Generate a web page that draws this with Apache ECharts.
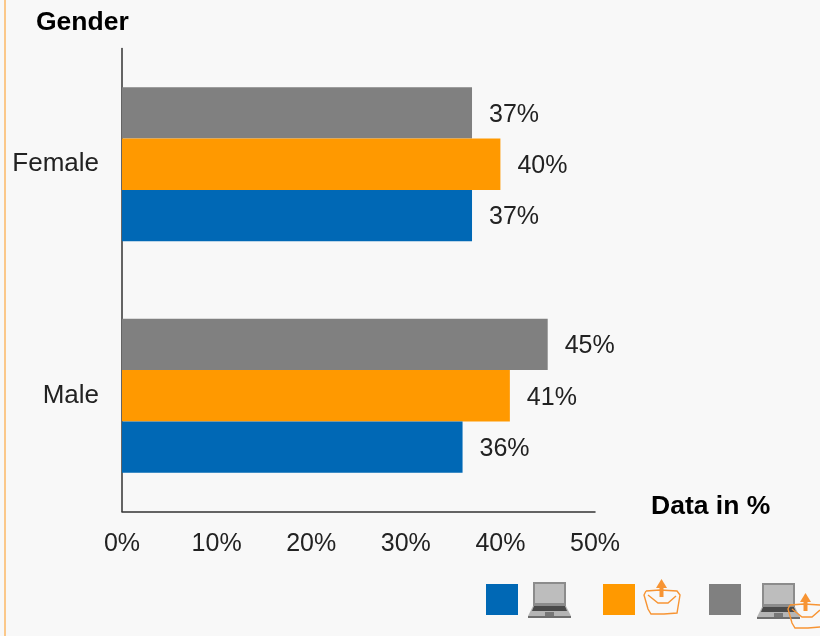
<!DOCTYPE html>
<html><head><meta charset="utf-8">
<style>html,body{margin:0;padding:0;background:#f8f8f8}#c{width:820px;height:636px}</style>
<script src="https://cdn.jsdelivr.net/npm/echarts@6/dist/echarts.min.js"></script></head>
<body><div id="c"></div>
<script>
const categories = ['Male', 'Female'];
const laptopValues = [36, 37];
const emailValues = [41, 40];
const bothValues = [45, 37];
const xTicks = [0, 10, 20, 30, 40, 50];
const colors = { laptop: '#0068b5', email: '#ff9900', both: '#808080' };
const F = 'Liberation Sans, Arial, sans-serif';

function laptop(x, y) {
  return [
    { type: 'rect', shape: { x: x + 5, y: y, width: 33, height: 25 }, style: { fill: '#8c8c8c' } },
    { type: 'rect', shape: { x: x + 7, y: y + 2, width: 29, height: 19 }, style: { fill: '#bdbdbd' } },
    { type: 'polygon', shape: { points: [[x + 5, y + 24], [x + 38, y + 24], [x + 43, y + 34], [x, y + 34]] }, style: { fill: '#b5b5b5' } },
    { type: 'polygon', shape: { points: [[x + 6, y + 24], [x + 37, y + 24], [x + 39, y + 29], [x + 4, y + 29]] }, style: { fill: '#4a4a4a' } },
    { type: 'rect', shape: { x: x + 17, y: y + 30, width: 9, height: 5 }, style: { fill: '#777' } },
    { type: 'rect', shape: { x: x, y: y + 34, width: 43, height: 2 }, style: { fill: '#6e6e6e' } }
  ];
}
function envelope(x, y) {
  const o = '#f79433';
  const line = { stroke: o, lineWidth: 1.4, fill: 'none' };
  return [
    { type: 'polyline', shape: { points: [[x + 2, y + 12], [x + 16, y + 11], [x + 33, y + 12], [x + 36, y + 16], [x + 33, y + 34], [x + 20, y + 35], [x + 7, y + 35], [x + 4, y + 30], [x, y + 16], [x + 2, y + 12]] }, style: line },
    { type: 'polyline', shape: { points: [[x + 4, y + 16], [x + 14, y + 24], [x + 24, y + 24], [x + 32, y + 17]] }, style: line },
    { type: 'rect', shape: { x: x + 15.5, y: y + 6, width: 4, height: 12 }, style: { fill: o } },
    { type: 'polygon', shape: { points: [[x + 17.5, y], [x + 23, y + 9], [x + 12, y + 9]] }, style: { fill: o } }
  ];
}

const graphics = [
  { type: 'rect', shape: { x: 4, y: 0, width: 2, height: 636 }, style: { fill: '#fbc88a' } },
  { type: 'rect', shape: { x: 486, y: 584, width: 32, height: 31 }, style: { fill: colors.laptop } },
  { type: 'rect', shape: { x: 603, y: 584, width: 32, height: 31 }, style: { fill: colors.email } },
  { type: 'rect', shape: { x: 709, y: 584, width: 32, height: 31 }, style: { fill: colors.both } },
  ...laptop(528, 582),
  ...envelope(644, 579),
  ...laptop(757, 583),
  ...envelope(788, 593)
].map(g => ({ ...g, silent: true }));

function series(name, data, color) {
  return {
    name, type: 'bar', data, barWidth: 51.3, barGap: 0,
    itemStyle: { color },
    label: { show: true, position: 'right', distance: 17, offset: [0, 2], formatter: '{c}%', color: '#222', fontSize: 25, fontFamily: F }
  };
}

const chart = echarts.init(document.getElementById('c'), null, { renderer: 'canvas' });
chart.setOption({
  animation: false,
  backgroundColor: '#f8f8f8',
  grid: { left: 122, right: 225, top: 48.5, bottom: 124.5, containLabel: false },
  xAxis: {
    type: 'value', min: 0, max: 50, interval: 10,
    splitLine: { show: false },
    axisLine: { show: true, lineStyle: { color: '#333', width: 1.5 } },
    axisTick: { show: false },
    axisLabel: { color: '#222', fontSize: 25, fontFamily: F, margin: 20,
      formatter: v => xTicks.includes(v) ? v + '%' : '' }
  },
  yAxis: {
    type: 'category', data: categories,
    axisLine: { show: true, lineStyle: { color: '#333', width: 1.5 } },
    axisTick: { show: false },
    axisLabel: { color: '#222', fontSize: 26, fontFamily: F, margin: 23, padding: [5, 0, 0, 0] }
  },
  title: [
    { text: 'Gender', left: 36, top: 9, padding: 0, textStyle: { fontSize: 26.5, fontWeight: 'bold', color: '#000', fontFamily: F } },
    { text: 'Data in %', left: 651, top: 493, padding: 0, textStyle: { fontSize: 26.5, fontWeight: 'bold', color: '#000', fontFamily: F } }
  ],
  series: [
    series('Laptop and email', bothValues, colors.both),
    series('Email', emailValues, colors.email),
    series('Laptop', laptopValues, colors.laptop)
  ],
  graphic: graphics
});
</script></body></html>
